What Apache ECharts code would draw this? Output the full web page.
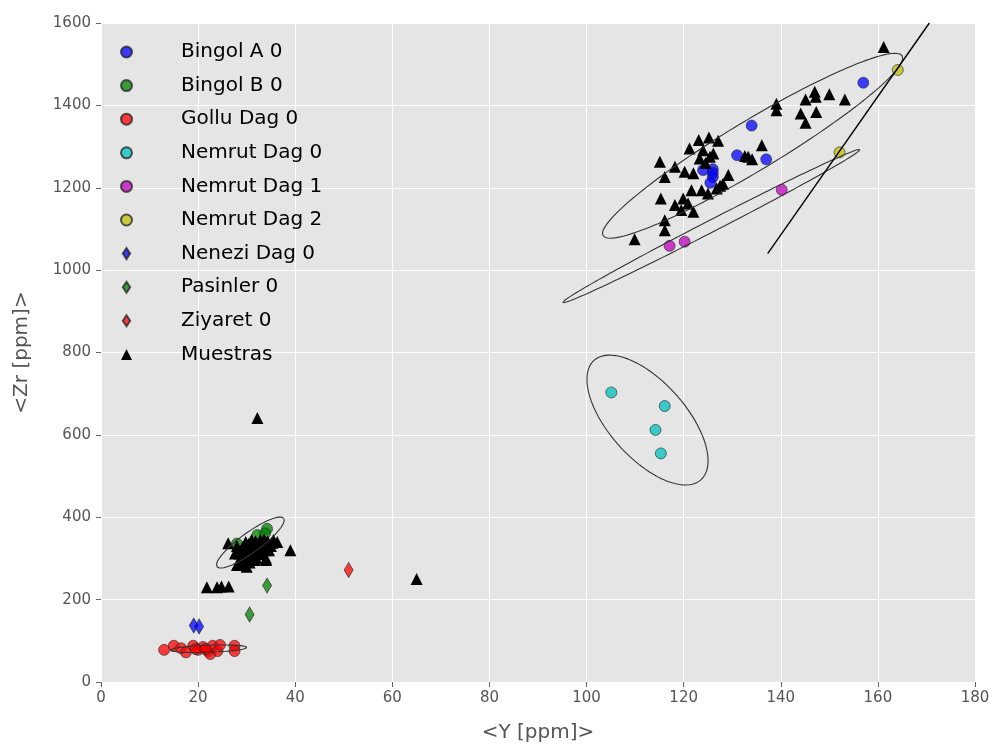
<!DOCTYPE html>
<html>
<head>
<meta charset="utf-8">
<title>Zr vs Y</title>
<script src="https://cdn.jsdelivr.net/npm/echarts@6/dist/echarts.min.js"></script>
<style>
  html, body { margin: 0; padding: 0; background: #ffffff; }
  #chart { width: 990px; height: 745px; }
</style>
</head>
<body>
<div id="chart"></div>
<script>
// Axis ticks
const xTicks = [0, 20, 40, 60, 80, 100, 120, 140, 160, 180];
const yTicks = [0, 200, 400, 600, 800, 1000, 1200, 1400, 1600];

// Reference sources: [Y ppm, Zr ppm]
const bingolA = [[157, 1455], [134, 1351], [131, 1279], [137, 1269], [124, 1243],
  [126, 1245], [126, 1236], [126, 1226], [125.5, 1212]];
const bingolB = [[34.2, 372], [32.2, 357], [33.8, 361], [28, 336], [30, 322], [31, 330]];
const golluDag = [[13, 78], [15, 88], [16.5, 82], [17.5, 72], [19, 88], [20, 78], [21, 85],
  [22, 75], [22.5, 68], [23, 88], [24, 75], [24.5, 90], [27.5, 88], [27.5, 75], [19.5, 80], [21.5, 80]];
const nemrut0 = [[105.1, 703], [116.1, 670], [114.2, 612], [115.3, 555]];
const nemrut1 = [[117.1, 1059], [120.2, 1069], [140.2, 1195]];
const nemrut2 = [[152.1, 1286], [164.1, 1486]];
const nenezi = [[19.1, 137], [20.2, 135]];
const pasinler = [[34.2, 234], [30.6, 164]];
const ziyaret = [[51, 272]];

// Obsidian samples
const muestras = [
  [32.2, 641], [65, 250], [39, 320], [26.2, 337],
  [21.8, 230], [23.9, 230], [24.8, 232], [26.3, 232],
  [28, 330], [28.5, 312], [29, 296], [29.3, 285], [29.8, 340], [30, 322], [30.3, 305],
  [30.6, 290], [31, 345], [31.2, 330], [31.5, 315], [32, 338], [32.4, 325], [32.8, 345],
  [33, 310], [33.5, 335], [33.8, 320], [34, 300], [34.3, 342], [35, 330], [35.5, 345],
  [36.3, 340], [30, 280], [28, 284], [32, 300], [34, 296],
  [28.8, 318], [29.5, 300], [30.8, 310], [31.6, 296], [32.5, 318], [33.2, 328], [34.6, 320],
  [35.3, 338], [29.2, 328], [30.4, 335], [31.8, 342], [33.6, 346], [27.6, 312], [28.4, 290],
  [161.2, 1542], [139.1, 1404], [139.1, 1388], [145.1, 1414], [147, 1433], [147.2, 1421],
  [150, 1427], [153.2, 1414], [144.1, 1380], [147.3, 1384], [145.1, 1358], [136.1, 1303],
  [132.6, 1277], [134.1, 1269], [133.3, 1275], [115.1, 1263], [118.2, 1251], [116.1, 1226],
  [121.2, 1295], [123.1, 1316], [125.2, 1322], [127.1, 1314], [124, 1291], [126.1, 1283],
  [123.3, 1271], [125.4, 1275], [120.2, 1239], [122, 1235], [129.2, 1231], [128.1, 1210],
  [126.8, 1198], [125, 1186], [123.7, 1194], [121.6, 1194], [115.3, 1174], [118.2, 1158],
  [119.9, 1174], [120.9, 1162], [122, 1142], [119.5, 1146], [116.1, 1121], [116.1, 1097],
  [109.9, 1075], [124.5, 1260], [127.5, 1205]
];

// Confidence ellipses: centre, first and second conjugate half-axes (data units)
const ellipseBingolA = { c: [134.2, 1302], a: [30.8, 218.4], b: [2.66, -52] };
const ellipseNemrut1 = { c: [125.7, 1107], a: [30.6, 185.7], b: [0.56, -12.7] };
const ellipseNemrut0 = { c: [112.55, 636], a: [11.0, -145.1], b: [5.88, 61.7] };
const ellipseBingolB = { c: [30.76, 338.6], a: [6.87, 58.7], b: [1.21, -19.6] };
const ellipseGollu = { c: [22.15, 80.8], a: [7.9, 3.2], b: [0, -8.5] };

// Trend line through the Nemrut Dag 2 points
const trendNemrut2 = [[137.3, 1040], [170.6, 1600]];

function outline(e) {
  const pts = [];
  const n = 180;
  for (let i = 0; i <= n; i++) {
    const t = (2 * Math.PI * i) / n;
    pts.push([
      e.c[0] + e.a[0] * Math.cos(t) + e.b[0] * Math.sin(t),
      e.c[1] + e.a[1] * Math.cos(t) + e.b[1] * Math.sin(t)
    ]);
  }
  return pts;
}

const FONT = 'DejaVu Sans';
const diamondIcon = 'path://M5,0L10,7.5L5,15L0,7.5Z';

function pointSeries(name, data, color, symbol, size) {
  return {
    name: name,
    type: 'scatter',
    data: data,
    symbol: symbol,
    symbolSize: size,
    z: 3,
    itemStyle: { color: color, opacity: 0.75, borderColor: '#222', borderWidth: 0.8 },
    emphasis: { disabled: true }
  };
}

function curveSeries(data, color, width) {
  return {
    type: 'line',
    data: data,
    showSymbol: false,
    symbol: 'none',
    smooth: false,
    z: 5,
    silent: true,
    clip: true,
    lineStyle: { color: color, width: width },
    emphasis: { disabled: true }
  };
}

const chart = echarts.init(document.getElementById('chart'), null, { renderer: 'canvas' });

chart.setOption({
  animation: false,
  backgroundColor: '#ffffff',
  grid: {
    left: 101, right: 15, top: 23, bottom: 63,
    outerBoundsMode: 'none',
    containLabel: false,
    show: true, backgroundColor: '#E5E5E5', borderWidth: 0
  },
  legend: {
    orient: 'vertical',
    left: 120,
    top: 42,
    padding: 0,
    itemWidth: 11,
    itemHeight: 11,
    itemGap: 13.6,
    selectedMode: false,
    textStyle: { fontFamily: FONT, fontSize: 20, color: '#000', lineHeight: 20, padding: [0, 0, 0, 44] },
    data: [
      { name: 'Bingol A 0', icon: 'circle' },
      { name: 'Bingol B 0', icon: 'circle' },
      { name: 'Gollu Dag 0', icon: 'circle' },
      { name: 'Nemrut Dag 0', icon: 'circle' },
      { name: 'Nemrut Dag 1', icon: 'circle' },
      { name: 'Nemrut Dag 2', icon: 'circle' },
      { name: 'Nenezi Dag 0', icon: diamondIcon },
      { name: 'Pasinler 0', icon: diamondIcon },
      { name: 'Ziyaret 0', icon: diamondIcon },
      { name: 'Muestras', icon: 'triangle' }
    ]
  },
  xAxis: {
    type: 'value',
    min: xTicks[0],
    max: xTicks[xTicks.length - 1],
    interval: xTicks[1] - xTicks[0],
    name: '<Y [ppm]>',
    nameLocation: 'middle',
    nameGap: 41,
    nameTextStyle: { fontFamily: FONT, fontSize: 20, color: '#555' },
    axisLine: { show: false },
    axisTick: { show: true, length: 5, lineStyle: { color: '#666' } },
    axisLabel: { fontFamily: FONT, fontSize: 15, color: '#555', margin: 9 },
    splitLine: { show: true, lineStyle: { color: '#ffffff', width: 1 } }
  },
  yAxis: {
    type: 'value',
    min: yTicks[0],
    max: yTicks[yTicks.length - 1],
    interval: yTicks[1] - yTicks[0],
    name: '<Zr [ppm]>',
    nameLocation: 'middle',
    nameGap: 69,
    nameRotate: 90,
    nameTextStyle: { fontFamily: FONT, fontSize: 20, color: '#555' },
    axisLine: { show: false },
    axisTick: { show: true, length: 5, lineStyle: { color: '#666' } },
    axisLabel: { fontFamily: FONT, fontSize: 15, color: '#555', margin: 10,
      formatter: function (v) { return String(v); } },
    splitLine: { show: true, lineStyle: { color: '#ffffff', width: 1 } }
  },
  series: [
    pointSeries('Bingol A 0', bingolA, '#0000ff', 'circle', 11),
    pointSeries('Bingol B 0', bingolB, '#008000', 'circle', 11),
    pointSeries('Gollu Dag 0', golluDag, '#ff0000', 'circle', 11),
    pointSeries('Nemrut Dag 0', nemrut0, '#00bfbf', 'circle', 11),
    pointSeries('Nemrut Dag 1', nemrut1, '#bf00bf', 'circle', 11),
    pointSeries('Nemrut Dag 2', nemrut2, '#bfbf00', 'circle', 11),
    pointSeries('Nenezi Dag 0', nenezi, '#0000ff', 'diamond', [9, 15]),
    pointSeries('Pasinler 0', pasinler, '#008000', 'diamond', [9, 15]),
    pointSeries('Ziyaret 0', ziyaret, '#ff0000', 'diamond', [9, 15]),
    {
      name: 'Muestras',
      type: 'scatter',
      data: muestras,
      symbol: 'triangle',
      symbolSize: 12,
      z: 4,
      itemStyle: { color: '#000000', opacity: 1 },
      emphasis: { disabled: true }
    },
    curveSeries(outline(ellipseBingolA), '#333', 1.1),
    curveSeries(outline(ellipseNemrut1), '#333', 1.1),
    curveSeries(outline(ellipseNemrut0), '#333', 1.1),
    curveSeries(outline(ellipseBingolB), '#333', 1.1),
    curveSeries(outline(ellipseGollu), '#333', 1.1),
    curveSeries(trendNemrut2, '#000', 1.4)
  ]
});
</script>
</body>
</html>
